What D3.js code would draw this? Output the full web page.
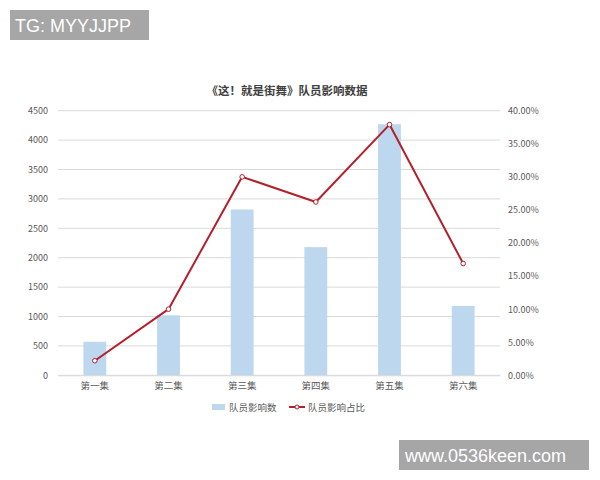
<!DOCTYPE html>
<html><head><meta charset="utf-8">
<script src="https://cdn.jsdelivr.net/npm/d3@7"></script>
<style>body{margin:0;background:#fff}svg{display:block}</style>
</head><body>
<script>
const categories = ["第一集","第二集","第三集","第四集","第五集","第六集"];
const counts = [570, 1020, 2820, 2180, 4270, 1180];
const shares = [0.022, 0.100, 0.300, 0.262, 0.379, 0.169];
const leftTicks = [0,500,1000,1500,2000,2500,3000,3500,4000,4500];
const rightTicks = [0,0.05,0.10,0.15,0.20,0.25,0.30,0.35,0.40];
const titleText = "《这！就是街舞》队员影响数据";
const seriesNames = ["队员影响数","队员影响占比"];

const W=600,H=480;
const font = "'Noto Sans CJK SC','Noto Sans',sans-serif";
const svg = d3.select("body").append("svg").attr("width",W).attr("height",H);
const m = {l:58, r:500, t:110.7, b:375.3};
const x = d3.scaleBand().domain(categories).range([m.l,m.r]).paddingInner(0.69).paddingOuter(0.345);
const y = d3.scaleLinear().domain([0,4500]).range([m.b,m.t]);
const y2 = d3.scaleLinear().domain([0,0.40]).range([m.b,m.t]);

// gridlines
svg.append("g").selectAll("line").data(leftTicks).join("line")
  .attr("x1",m.l).attr("x2",m.r).attr("y1",d=>y(d)).attr("y2",d=>y(d))
  .attr("stroke","#d9d9d9").attr("stroke-width",1);

// left axis
const la = svg.append("g").attr("transform",`translate(${m.l},0)`)
  .call(d3.axisLeft(y).tickValues(leftTicks).tickSize(0).tickPadding(10).tickFormat(d3.format("d")));
la.select(".domain").remove();
la.selectAll("text").attr("fill","#595959").style("font-family",font).style("font-size","9px");

// right axis
const ra = svg.append("g").attr("transform",`translate(${m.r},0)`)
  .call(d3.axisRight(y2).tickValues(rightTicks).tickSize(0).tickPadding(8).tickFormat(d3.format(".2%")));
ra.select(".domain").remove();
ra.selectAll("text").attr("fill","#595959").style("font-family",font).style("font-size","9px");

// bars
svg.append("g").selectAll("rect").data(counts).join("rect")
  .attr("x",(d,i)=>x(categories[i])).attr("width",x.bandwidth())
  .attr("y",d=>y(d)).attr("height",d=>y(0)-y(d)).attr("fill","#bdd7ee");

// bottom axis
const ba = svg.append("g").attr("transform",`translate(0,${m.b})`)
  .call(d3.axisBottom(x).tickSize(0).tickPadding(7));
ba.select(".domain").attr("stroke","#d9d9d9");
ba.selectAll("text").attr("fill","#595959").style("font-family",font).style("font-size","9.5px");

// line
const cx = (i)=>x(categories[i])+x.bandwidth()/2;
const line = d3.line().x((d,i)=>cx(i)).y(d=>y2(d));
svg.append("path").datum(shares).attr("d",line).attr("fill","none")
  .attr("stroke","#b41f2a").attr("stroke-width",2).attr("stroke-linejoin","round");
svg.append("g").selectAll("circle").data(shares).join("circle")
  .attr("cx",(d,i)=>cx(i)).attr("cy",d=>y2(d)).attr("r",2.3)
  .attr("fill","#fff").attr("stroke","#b41f2a").attr("stroke-width",1);

// title
svg.append("text").attr("x",287).attr("y",95).attr("text-anchor","middle")
  .attr("fill","#404040").style("font-family",font).style("font-size","11.5px").style("font-weight","bold")
  .text(titleText);

// legend
const lg = svg.append("g");
lg.append("rect").attr("x",212).attr("y",404).attr("width",13).attr("height",6).attr("fill","#bdd7ee");
lg.append("text").attr("x",229).attr("y",411).attr("fill","#595959").style("font-family",font).style("font-size","9.5px").text(seriesNames[0]);
lg.append("line").attr("x1",289).attr("x2",305).attr("y1",407).attr("y2",407).attr("stroke","#b41f2a").attr("stroke-width",2);
lg.append("circle").attr("cx",297).attr("cy",407).attr("r",2).attr("fill","#fff").attr("stroke","#b41f2a");
lg.append("text").attr("x",308).attr("y",411).attr("fill","#595959").style("font-family",font).style("font-size","9.5px").text(seriesNames[1]);

// watermarks
svg.append("rect").attr("x",10).attr("y",10).attr("width",139).attr("height",30).attr("fill","#a6a6a6");
svg.append("text").attr("x",15).attr("y",32).attr("fill","#fff").style("font-family","'Liberation Sans',Arial,sans-serif").style("font-size","18px").text("TG: MYYJJPP");
svg.append("rect").attr("x",399).attr("y",440).attr("width",190).attr("height",30).attr("fill","#a6a6a6");
svg.append("text").attr("x",405).attr("y",462).attr("fill","#fff").style("font-family","'Liberation Sans',Arial,sans-serif").style("font-size","18px").text("www.0536keen.com");
</script>
</body></html>
